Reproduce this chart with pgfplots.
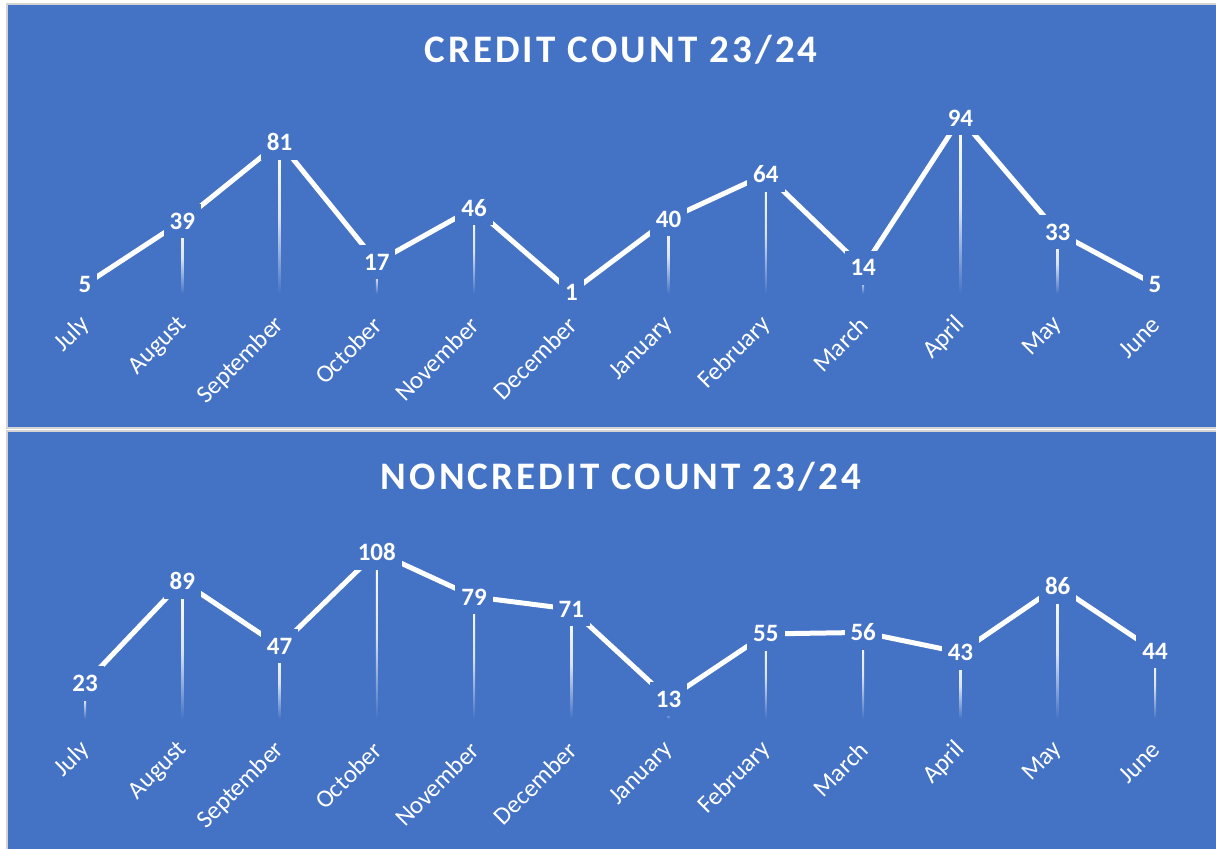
\documentclass[border=0pt]{standalone}
\usepackage{fontspec}
\setmainfont{Carlito}
\newfontfamily\titlefont[LetterSpace=8]{Carlito}
\usepackage{pgfplots}
\pgfplotsset{compat=1.18}
\definecolor{bgblue}{HTML}{4472C4}
\definecolor{bordergray}{HTML}{D4D4D4}
\pgfplotsset{
  panel/.style={
    scale only axis, width=1070pt, xmin=0, xmax=11, ymin=0, clip=false,
    anchor=south west,
    axis line style={draw=none}, ytick=\empty, xtick={0,...,11},
    xticklabels={July,August,September,October,November,December,January,February,March,April,May,June},
    major tick length=0pt,
    /pgf/number format/assume math mode=true,
    xticklabel style={font=\fontsize{25}{27}\selectfont, text=white, inner sep=0pt,
      xshift=1pt, yshift=-27pt, rotate=45, anchor=east},
  },
  drop/.style={ybar, bar width=2pt, bar shift=0pt, draw=none,
    top color=white, bottom color=bgblue, middle color=white!80!bgblue, forget plot},
  mainline/.style={white, line width=5pt, no marks, sharp plot, nodes near coords,
    every node near coord/.append style={anchor=center, fill=bgblue, text=white,
      font=\bfseries\fontsize{25}{27}\selectfont, inner xsep=6pt, inner ysep=9pt}},
}
\begin{document}
\begin{tikzpicture}
\useasboundingbox (0pt,0pt) rectangle (1216pt,849pt);
\fill[white] (0pt,0pt) rectangle (1216pt,849pt);
\fill[bordergray] (6pt,420pt) rectangle (1216pt,846pt);
\fill[bgblue] (8pt,422pt) rectangle (1216pt,844pt);
\fill[bordergray] (6pt,0pt) rectangle (1216pt,419pt);
\fill[bgblue] (8pt,0pt) rectangle (1216pt,417pt);

\node[anchor=base, text=white, font=\titlefont\bfseries\fontsize{39}{40}\selectfont] at (621pt,786pt) {CREDIT COUNT 23/24};
\node[anchor=base, text=white, font=\titlefont\bfseries\fontsize{39}{40}\selectfont] at (621pt,359pt) {NONCREDIT COUNT 23/24};

\begin{axis}[panel, at={(85pt,555pt)}, height=176pt, ymax=94]
\addplot[drop] coordinates {(0,5)};
\addplot[drop] coordinates {(1,39)};
\addplot[drop] coordinates {(2,81)};
\addplot[drop] coordinates {(3,17)};
\addplot[drop] coordinates {(4,46)};
\addplot[drop] coordinates {(5,1)};
\addplot[drop] coordinates {(6,40)};
\addplot[drop] coordinates {(7,64)};
\addplot[drop] coordinates {(8,14)};
\addplot[drop] coordinates {(9,94)};
\addplot[drop] coordinates {(10,33)};
\addplot[drop] coordinates {(11,5)};
\addplot[mainline] coordinates {(0,5) (1,39) (2,81) (3,17) (4,46) (5,1) (6,40) (7,64) (8,14) (9,94) (10,33) (11,5)};
\end{axis}

\begin{axis}[panel, at={(85pt,130pt)}, height=167pt, ymax=108]
\addplot[drop] coordinates {(0,23)};
\addplot[drop] coordinates {(1,89)};
\addplot[drop] coordinates {(2,47)};
\addplot[drop] coordinates {(3,108)};
\addplot[drop] coordinates {(4,79)};
\addplot[drop] coordinates {(5,71)};
\addplot[drop] coordinates {(6,13)};
\addplot[drop] coordinates {(7,55)};
\addplot[drop] coordinates {(8,56)};
\addplot[drop] coordinates {(9,43)};
\addplot[drop] coordinates {(10,86)};
\addplot[drop] coordinates {(11,44)};
\addplot[mainline] coordinates {(0,23) (1,89) (2,47) (3,108) (4,79) (5,71) (6,13) (7,55) (8,56) (9,43) (10,86) (11,44)};
\end{axis}
\end{tikzpicture}
\end{document}
